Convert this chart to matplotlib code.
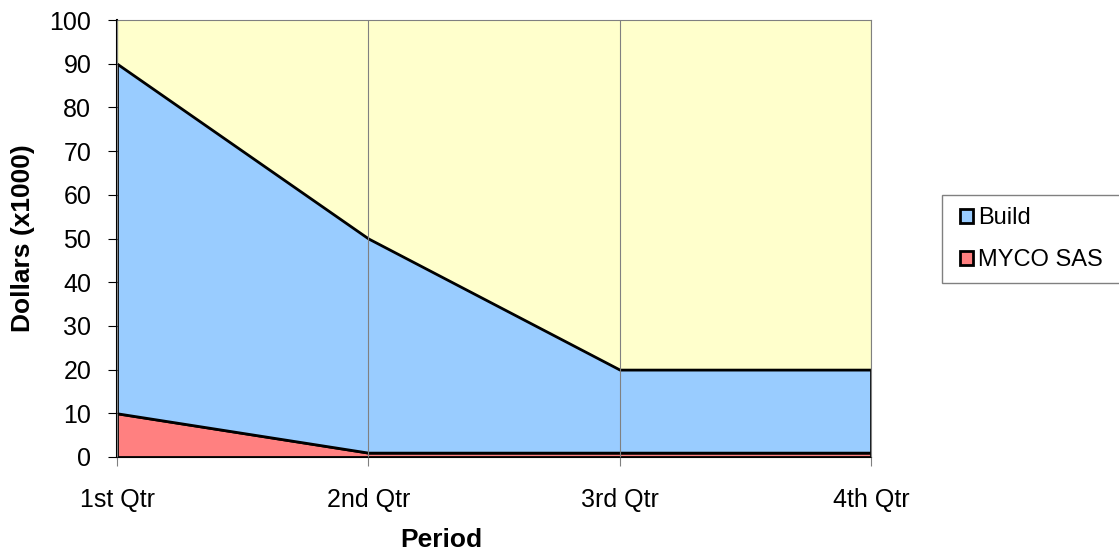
import numpy as np
import matplotlib
matplotlib.use('Agg')
import matplotlib.pyplot as plt
from matplotlib.patches import Patch, Rectangle

periods = ['1st Qtr', '2nd Qtr', '3rd Qtr', '4th Qtr']
myco_sas = [10, 1, 1, 1]
build = [80, 49, 19, 19]

plt.rcParams['font.family'] = ['Liberation Sans', 'DejaVu Sans']

W, H = 1119, 552
fig = plt.figure(figsize=(W/100, H/100), dpi=100)
ax = fig.add_axes([117/W, 1 - 457/H, (871-117)/W, (457-20)/H])
ax.set_facecolor('#FFFFCC')

x = np.arange(len(periods))
ax.stackplot(x, myco_sas, build, colors=['#FF8080', '#99CCFF'],
             edgecolor='black', linewidth=2)

ax.set_xlim(0, 3)
ax.set_ylim(0, 100)
ax.set_yticks(range(0, 101, 10))
ax.set_xticks(x)
ax.set_xticklabels(periods)
ax.tick_params(axis='both', labelsize=18, length=6.5, color='#808080')
ax.tick_params(axis='y', color='black', pad=12)
ax.tick_params(axis='x', pad=16)
ax.grid(axis='x', color='#808080', linewidth=0.8)
ax.set_axisbelow(False)

ax.spines['left'].set_color('black')
ax.spines['left'].set_linewidth(1.5)
ax.spines['bottom'].set_color('black')
ax.spines['top'].set_color('#808080')
ax.spines['right'].set_color('#808080')

ax.set_xlabel('Period', fontsize=19, fontweight='bold', va='center')
ax.set_ylabel('Dollars (x1000)', fontsize=19, fontweight='bold', va='center')
ax.xaxis.set_label_coords((441-117)/(871-117), -(540-457)/(457-20))
ax.yaxis.set_label_coords(-(117-23)/(871-117), 0.5)

# legend frame runs off the right edge of the picture
fig.patches.append(Rectangle((942/W, 1 - 283/H), (1130-942)/W, (283-195)/H,
                             transform=fig.transFigure, facecolor='white',
                             edgecolor='#808080', linewidth=1))
handles = [Patch(facecolor='#99CCFF', edgecolor='black', linewidth=2),
           Patch(facecolor='#FF8080', edgecolor='black', linewidth=2)]
leg = fig.legend(handles, ['Build', 'MYCO SAS'], loc='center left',
                 bbox_to_anchor=(960/W, 1 - 239/H), fontsize=17,
                 frameon=False, handlelength=0.55, handleheight=0.55,
                 handletextpad=0.2, labelspacing=0.85, borderpad=0,
                 borderaxespad=0)

fig.savefig('out.png', dpi=100)
